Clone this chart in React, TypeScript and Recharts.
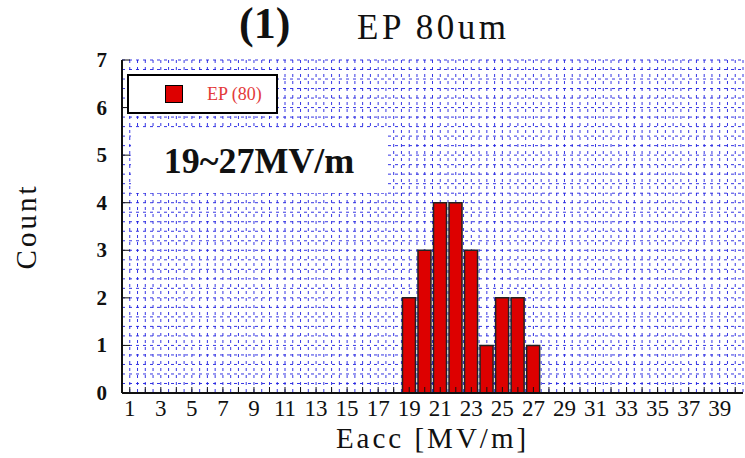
import { BarChart, Bar, XAxis, YAxis, CartesianGrid } from "recharts";

const categories = [
  1, 2, 3, 4, 5, 6, 7, 8, 9, 10, 11, 12, 13, 14, 15, 16, 17, 18, 19, 20,
  21, 22, 23, 24, 25, 26, 27, 28, 29, 30, 31, 32, 33, 34, 35, 36, 37, 38, 39, 40,
];
const counts = [
  0, 0, 0, 0, 0, 0, 0, 0, 0, 0, 0, 0, 0, 0, 0, 0, 0, 0, 2, 3,
  4, 4, 3, 1, 2, 2, 1, 0, 0, 0, 0, 0, 0, 0, 0, 0, 0, 0, 0, 0,
];
const yTicks = [0, 1, 2, 3, 4, 5, 6, 7];
const seriesName = "EP (80)";

const data = categories.map((c, i) => ({ eacc: c, count: counts[i] }));

const SERIF = "'Liberation Serif', 'Times New Roman', serif";
const RED = "#dd0000";

// bottom ticks: inward tick mark for every category, label only on odd ones
function BottomTick(props: any) {
  const { x, y, payload, index } = props;
  return (
    <g>
      <line x1={x} y1={y} x2={x} y2={y - 6} stroke="#111" strokeWidth={1} />
      {index % 2 === 0 && (
        <text x={x} y={y + 23} textAnchor="middle" fontFamily={SERIF} fontSize={23} fill="#111">
          {payload.value}
        </text>
      )}
    </g>
  );
}

function TopTick(props: any) {
  const { x, y } = props;
  return <line x1={x} y1={y} x2={x} y2={y + 6} stroke="#111" strokeWidth={1} />;
}

function LeftTick(props: any) {
  const { x, y, payload } = props;
  return (
    <g>
      <line x1={x} y1={y} x2={x + 8} y2={y} stroke="#111" strokeWidth={1} />
      <text x={x - 15} y={y + 7} textAnchor="end" fontFamily={SERIF} fontWeight="bold" fontSize={21} fill="#111">
        {payload.value}
      </text>
    </g>
  );
}

function RightTick(props: any) {
  const { x, y } = props;
  return <line x1={x} y1={y} x2={x - 8} y2={y} stroke="#111" strokeWidth={1} />;
}

export default function App() {
  return (
    <div style={{ position: "absolute", left: 0, top: 0, width: 745, height: 458, background: "#fff" }}>
      <BarChart
        width={745}
        height={458}
        data={data}
        margin={{ top: 60, right: 2, bottom: 0, left: 0 }}
        barSize={13}
      >
        {/* dotted blue grid: half-category columns, 0.2 count rows */}
        <CartesianGrid
          stroke="#2020e0"
          strokeOpacity={0.9}
          strokeDasharray="3 4"
          strokeWidth={1}
          verticalCoordinatesGenerator={({ offset }: any) =>
            Array.from({ length: 81 }, (_, i) => offset.left + (i * offset.width) / 80)
          }
          horizontalCoordinatesGenerator={({ offset }: any) =>
            Array.from({ length: 36 }, (_, i) => offset.top + (i * offset.height) / 35)
          }
        />
        <XAxis
          dataKey="eacc"
          xAxisId="bottom"
          height={65}
          interval={0}
          tickSize={0}
          tickMargin={0}
          tickLine={false}
          axisLine={{ stroke: "#111", strokeWidth: 2 }}
          tick={<BottomTick />}
          label={{
            value: "Eacc [MV/m]",
            position: "insideBottom",
            offset: 10,
            style: { fontFamily: SERIF, fontSize: 29, fill: "#111", letterSpacing: 3 },
          }}
        />
        <XAxis
          dataKey="eacc"
          xAxisId="top"
          orientation="top"
          height={0}
          interval={0}
          tickSize={0}
          tickMargin={0}
          tickLine={false}
          axisLine={{ stroke: "#111", strokeWidth: 2 }}
          tick={<TopTick />}
        />
        <YAxis
          yAxisId="left"
          width={122}
          domain={[0, 7]}
          ticks={yTicks}
          tickSize={0}
          tickMargin={0}
          tickLine={false}
          axisLine={{ stroke: "#111", strokeWidth: 2 }}
          tick={<LeftTick />}
          label={{
            value: "Count",
            angle: -90,
            position: "insideLeft",
            offset: 26,
            style: { fontFamily: SERIF, fontSize: 29, fill: "#111", letterSpacing: 3, textAnchor: "middle" },
          }}
        />
        <YAxis
          yAxisId="right"
          orientation="right"
          width={0}
          domain={[0, 7]}
          ticks={yTicks}
          tickSize={0}
          tickMargin={0}
          tickLine={false}
          axisLine={{ stroke: "#111", strokeWidth: 2 }}
          tick={<RightTick />}
        />
        <Bar
          dataKey="count"
          name={seriesName}
          xAxisId="bottom"
          yAxisId="left"
          fill={RED}
          stroke="#222"
          strokeWidth={1.5}
          isAnimationActive={false}
        />
      </BarChart>

      {/* legend */}
      <div
        style={{
          position: "absolute",
          left: 127,
          top: 74,
          width: 147,
          height: 36,
          border: "2px solid #000",
          background: "#fff",
          display: "flex",
          alignItems: "center",
        }}
      >
        <div style={{ width: 16, height: 16, background: RED, border: "1px solid #000", marginLeft: 36 }} />
        <span style={{ marginLeft: 24, fontFamily: SERIF, fontSize: 18, color: "#e33a3a" }}>{seriesName}</span>
      </div>

      {/* annotation box */}
      <div
        style={{
          position: "absolute",
          left: 131,
          top: 128,
          width: 256,
          height: 65,
          background: "#fff",
          display: "flex",
          alignItems: "center",
          justifyContent: "center",
          fontFamily: SERIF,
          fontWeight: "bold",
          fontSize: 36,
          color: "#111",
        }}
      >
        19~27MV/m
      </div>

      {/* title */}
      <div
        style={{
          position: "absolute",
          left: 239,
          top: -2,
          fontFamily: SERIF,
          fontWeight: "bold",
          fontSize: 44,
          color: "#111",
          whiteSpace: "nowrap",
        }}
      >
        (1)
      </div>
      <div
        style={{
          position: "absolute",
          left: 357,
          top: 8,
          fontFamily: SERIF,
          fontSize: 35,
          letterSpacing: 3.5,
          color: "#111",
          whiteSpace: "nowrap",
        }}
      >
        EP 80um
      </div>
    </div>
  );
}
